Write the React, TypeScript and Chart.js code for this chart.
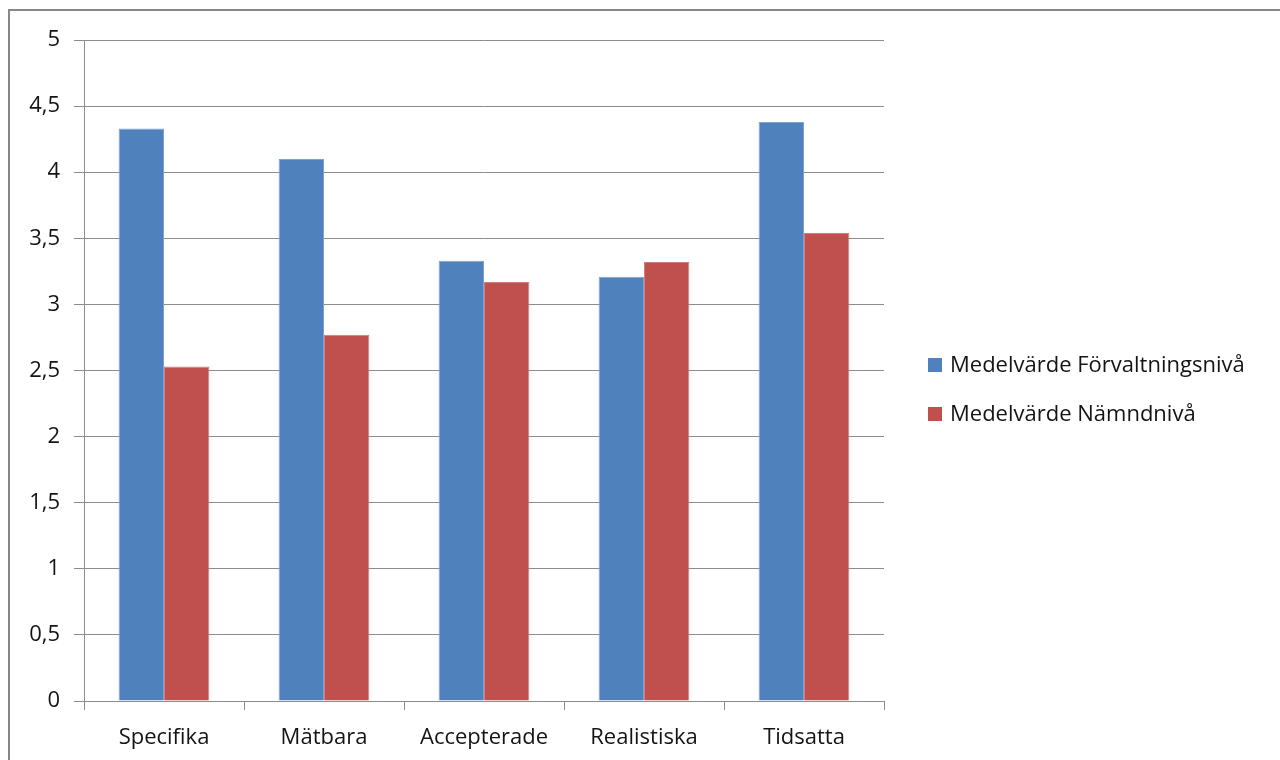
import React, { useEffect, useRef } from "react";
import { Chart, registerables } from "chart.js";

Chart.register(...registerables);

const categories = ["Specifika", "Mätbara", "Accepterade", "Realistiska", "Tidsatta"];
const seriesLabels = ["Medelvärde Förvaltningsnivå", "Medelvärde Nämndnivå"];
const forvaltningValues = [4.33, 4.1, 3.33, 3.21, 4.38];
const namndValues = [2.53, 2.77, 3.17, 3.32, 3.54];
const seriesColors = ["#4F81BD", "#C0504D"];
const seriesBorders = ["#7EA2CF", "#D27D7B"];
const yMin = 0;
const yMax = 5;
const yStep = 0.5;

const FONT = "'Open Sans', Lato, sans-serif";
const FONT_SIZE = 22;
const GRID = "#8C8C8C";
const TEXT = "#141414";

export default function App() {
  const ref = useRef<HTMLCanvasElement | null>(null);

  useEffect(() => {
    if (!ref.current) return;
    const chart = new Chart(ref.current, {
      type: "bar",
      data: {
        labels: categories,
        datasets: [
          {
            label: seriesLabels[0],
            data: forvaltningValues,
            backgroundColor: seriesColors[0],
            borderColor: seriesBorders[0],
            borderWidth: 1,
            categoryPercentage: 0.567,
            barPercentage: 1,
          },
          {
            label: seriesLabels[1],
            data: namndValues,
            backgroundColor: seriesColors[1],
            borderColor: seriesBorders[1],
            borderWidth: 1,
            categoryPercentage: 0.567,
            barPercentage: 1,
          },
        ],
      },
      options: {
        animation: false,
        responsive: false,
        maintainAspectRatio: false,
        layout: { padding: { left: 0, right: 396, top: 40, bottom: 0 } },
        plugins: {
          legend: { display: false },
          tooltip: { enabled: false },
        },
        scales: {
          x: {
            grid: {
              display: true,
              drawOnChartArea: false,
              drawTicks: true,
              tickLength: 9,
              color: GRID,
              offset: true,
            },
            border: { display: true, color: GRID, width: 1 },
            ticks: {
              font: { family: FONT, size: FONT_SIZE },
              color: TEXT,
              padding: 15,
            },
            afterFit: (s: any) => {
              s.height = 59;
            },
          },
          y: {
            min: yMin,
            max: yMax,
            grid: { color: GRID, tickLength: 10, drawTicks: true },
            border: { display: true, color: GRID, width: 1 },
            ticks: {
              stepSize: yStep,
              font: { family: FONT, size: FONT_SIZE },
              color: TEXT,
              padding: 14,
              callback: (v: any) => String(v).replace(".", ","),
            },
            afterFit: (s: any) => {
              s.width = 84;
            },
          },
        },
      },
    });
    return () => chart.destroy();
  }, []);

  const legendRows = [
    { top: 358, text: seriesLabels[0], color: seriesColors[0] },
    { top: 407, text: seriesLabels[1], color: seriesColors[1] },
  ];

  return (
    <div
      style={{
        position: "fixed",
        left: 0,
        top: 0,
        width: 1280,
        height: 760,
        overflow: "hidden",
        background: "#fff",
      }}
    >
      <div
        style={{
          position: "absolute",
          left: 8,
          top: 9,
          width: 1320,
          height: 800,
          border: "2px solid #878787",
          boxSizing: "border-box",
        }}
      />
      <canvas
        ref={ref}
        width={1280}
        height={760}
        style={{ position: "absolute", left: 0, top: 0, width: 1280, height: 760 }}
      />
      {legendRows.map((r) => (
        <React.Fragment key={r.text}>
          <div
            style={{
              position: "absolute",
              left: 928,
              top: r.top,
              width: 14,
              height: 14,
              background: r.color,
            }}
          />
          <div
            style={{
              position: "absolute",
              left: 950,
              top: r.top - 6,
              fontFamily: FONT,
              fontSize: FONT_SIZE,
              lineHeight: "22px",
              color: TEXT,
              whiteSpace: "nowrap",
            }}
          >
            {r.text}
          </div>
        </React.Fragment>
      ))}
    </div>
  );
}
